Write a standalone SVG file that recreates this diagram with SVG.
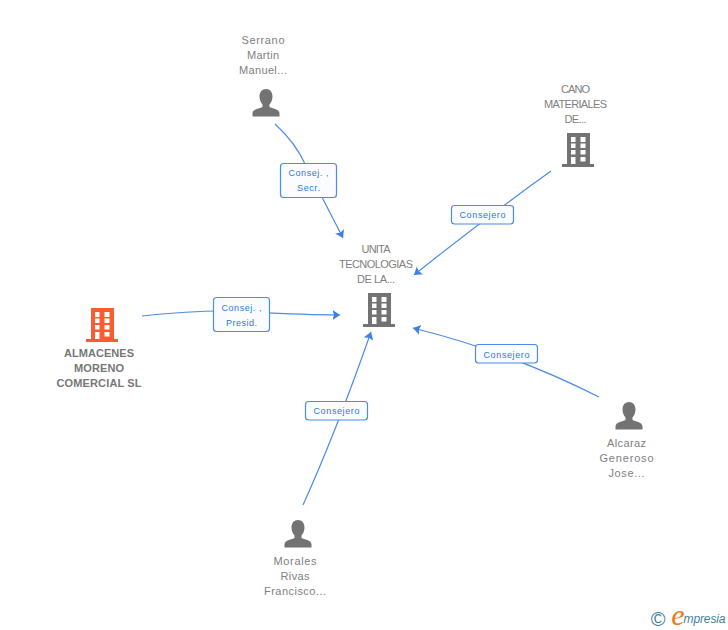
<svg xmlns="http://www.w3.org/2000/svg" width="728" height="630" viewBox="0 0 728 630">
<style>
text{font-family:"Liberation Sans",Arial,sans-serif;text-anchor:middle}
.n{font-size:11px;fill:#808080}
.b{font-size:11px;fill:#777;font-weight:bold}
.l{font-size:9px;fill:#2e78e0}
.c{fill:none;stroke:#4a8ce6;stroke-width:1.2}
.box{fill:#fafcff;stroke:#4a8ce6;stroke-width:1.2}
</style>
<defs>
<marker id="a" markerUnits="userSpaceOnUse" markerWidth="12" markerHeight="12" refX="7.500" refY="5.500" orient="auto"><path d="M0 .5L7.500 5.500L0 10.500L1.500 5.500Z" fill="#3b80e2"/></marker>
<symbol id="bld" width="33" height="35" viewBox="0 0 33 35"><path fill-rule="evenodd" d="M5 0H28V31H32V34H0V31H5ZM9 4V9H13.500V4ZM18.500 4V9H23.500V4ZM9 10.500V15H13.500V10.500ZM18.500 10.500V15H23.500V10.500ZM9 17V21.500H13.500V17ZM18.500 17V21.500H23.500V17ZM9 24V31H13.500V24ZM18.500 24V28.500H23.500V24Z"/></symbol>
<symbol id="per" width="28" height="28" viewBox="0 0 28 28"><path fill="#737373" d="M14 0C18 0 20.500 3 20.500 7.500C20.500 11 19 14 17.500 15.500V18C20 19.500 27 20 27.500 24V27.500H.5V24C1 20 8 19.500 10.500 18V15.500C9 14 7.500 11 7.500 7.500C7.500 3 10 0 14 0Z"/></symbol>
</defs>
<g id="connectors">
<path class="c" marker-end="url(#a)" d="M275 124Q296 143 306 166L343 238"/>
<path class="c" marker-end="url(#a)" d="M551 171Q480 222 414 275"/>
<path class="c" marker-end="url(#a)" d="M599 397Q510 352 413 328"/>
<path class="c" marker-end="url(#a)" d="M303 505Q336 432 371 332"/>
<path class="c" marker-end="url(#a)" d="M142 316C180 312 215 310 241 311.500S310 315 340 315"/>
<g id="edge-labels">
<rect class="box" x="280.500" y="163.500" width="56" height="34" rx="3"/><text class="l" x="308.500" y="176" textLength="40">Consej. ,</text><text class="l" x="308.500" y="191" textLength="23">Secr.</text>
<rect class="box" x="451.500" y="205.500" width="62" height="18.500" rx="3"/><text class="l" x="482.500" y="218" textLength="46">Consejero</text>
<rect class="box" x="475.500" y="344.500" width="62" height="18.500" rx="3"/><text class="l" x="506.500" y="358" textLength="46">Consejero</text>
<rect class="box" x="305.500" y="401.500" width="62" height="18.500" rx="3"/><text class="l" x="336.500" y="414" textLength="46">Consejero</text>
<rect class="box" x="213.500" y="297.500" width="56" height="34" rx="3"/><text class="l" x="241.500" y="311" textLength="40">Consej. ,</text><text class="l" x="241.500" y="326" textLength="31">Presid.</text>
</g>
</g>
<g id="node-serrano"><text class="n" x="263" y="44" textLength="43">Serrano</text><text class="n" x="263" y="59" textLength="32">Martin</text><text class="n" x="263" y="74" textLength="48">Manuel...</text><use href="#per" x="252" y="89"/></g>
<g id="node-cano"><text class="n" x="575.500" y="93" textLength="29">CANO</text><text class="n" x="575.500" y="108" textLength="63">MATERIALES</text><text class="n" x="575.500" y="123" textLength="22">DE...</text><use href="#bld" x="562" y="133" fill="#737373"/></g>
<g id="node-unita"><text class="n" x="376" y="253" textLength="29">UNITA</text><text class="n" x="376" y="268" textLength="74">TECNOLOGIAS</text><text class="n" x="376" y="283" textLength="38">DE LA...</text><use href="#bld" x="363" y="293" fill="#737373"/></g>
<g id="node-almacenes"><use href="#bld" x="86" y="308" fill="#ff5a30"/><text class="b" x="99" y="357" textLength="70">ALMACENES</text><text class="b" x="99" y="372" textLength="50">MORENO</text><text class="b" x="99" y="387" textLength="85">COMERCIAL SL</text></g>
<g id="node-alcaraz"><use href="#per" x="615" y="402"/><text class="n" x="626.500" y="447" textLength="39">Alcaraz</text><text class="n" x="626.500" y="462" textLength="54">Generoso</text><text class="n" x="626.500" y="477" textLength="36">Jose...</text></g>
<g id="node-morales"><use href="#per" x="284" y="520"/><text class="n" x="295" y="565" textLength="43">Morales</text><text class="n" x="295" y="580" textLength="29">Rivas</text><text class="n" x="295" y="595" textLength="62">Francisco...</text></g>
<g id="logo"><text x="658" y="626" style="font-size:20px;fill:#3f7f98">©</text><text x="678" y="625" style="font-size:30px;fill:#f07a14;font-family:'Liberation Serif',serif;font-style:italic">e</text><text x="704.500" y="623" textLength="42" style="font-size:12px;fill:#3f7f98;font-style:italic">mpresia</text></g>
</svg>
